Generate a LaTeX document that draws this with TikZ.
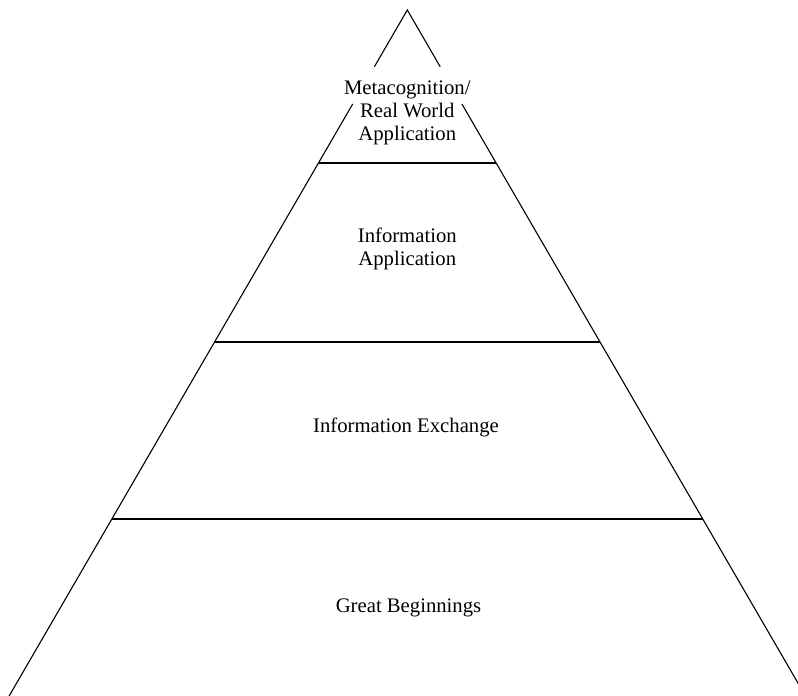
\documentclass[tikz,border=0pt]{standalone}
\usepackage{fontspec}
\setmainfont{Liberation Serif}
\begin{document}
\begin{tikzpicture}[x=1bp,y=-1bp,
  side/.style={line width=1.1bp},
  tier/.style={line width=1.8bp},
  lbl/.style={anchor=base, inner sep=0pt, font=\fontsize{20.7bp}{23bp}\selectfont}]
\useasboundingbox (0,0) rectangle (798,696);
\clip (0,0) rectangle (798,696);

% outline of the pyramid
\coordinate (apex) at (407.3,10);
\coordinate (gapTL) at (374.4,66.7);
\coordinate (gapTR) at (440.2,66.7);
\coordinate (gapBL) at (352.7,104);
\coordinate (gapBR) at (461.9,104);
\coordinate (botL) at (6.8,700);
\coordinate (botR) at (807.8,700);
\draw[side] (gapTL) -- (apex) -- (gapTR);
\draw[side] (gapBL) -- (botL);
\draw[side] (gapBR) -- (botR);

% tier boundaries
\coordinate (t1L) at (318.7,162.7);  \coordinate (t1R) at (495.9,162.7);
\coordinate (t2L) at (214.8,341.7);  \coordinate (t2R) at (599.8,341.7);
\coordinate (t3L) at (111.7,519.3);  \coordinate (t3R) at (702.9,519.3);
\draw[tier] (t1L) -- (t1R);
\draw[tier] (t2L) -- (t2R);
\draw[tier] (t3L) -- (t3R);

% tier labels
\node[lbl] (meta1) at (407.3,95) {Metacognition/};
\node[lbl] (meta2) at (407.3,118) {Real World};
\node[lbl] (meta3) at (407.3,140.5) {Application};
\node[lbl] (info1) at (407.3,242) {Information};
\node[lbl] (info2) at (407.3,265) {Application};
\node[lbl] (exch) at (406,432) {Information Exchange};
\node[lbl] (great) at (408.5,612) {Great Beginnings};
\end{tikzpicture}
\end{document}
